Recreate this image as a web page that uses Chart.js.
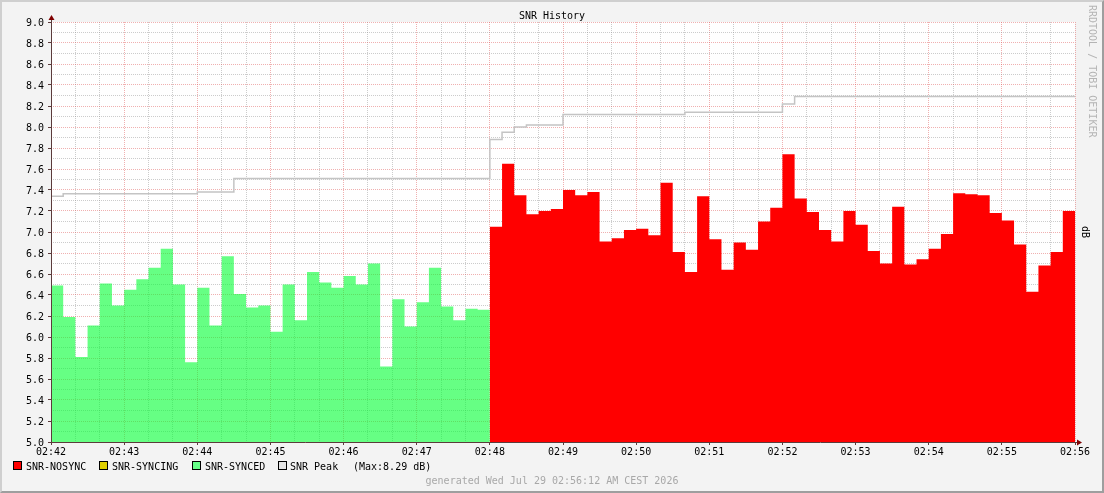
<!DOCTYPE html>
<html>
<head>
<meta charset="utf-8">
<title>SNR History</title>
<script src="https://cdn.jsdelivr.net/npm/chart.js@4.4.1/dist/chart.umd.min.js"></script>
<style>
  html, body { margin: 0; padding: 0; background: #f3f3f3; }
  #wrap { position: relative; width: 1104px; height: 493px; overflow: hidden;
          font-family: "DejaVu Sans Mono", monospace; font-size: 10px; color: #000; }
  #snrChart { position: absolute; left: 0; top: 0; }
  #frame { position: absolute; left: 0; top: 0; width: 1104px; height: 493px; box-sizing: border-box;
           border-top: 2px solid #cfcfcf; border-left: 2px solid #cfcfcf;
           border-right: 2px solid #9e9e9e; border-bottom: 2px solid #9e9e9e; pointer-events: none; }
  .txt { position: absolute; white-space: pre; line-height: 12px; }
  .box { position: absolute; width: 9px; height: 9px; box-sizing: border-box; border: 1px solid #000; }
  .vert { transform: rotate(90deg); transform-origin: center center; text-align: center; }
</style>
</head>
<body>
<div id="wrap">
  <canvas id="snrChart" width="1104" height="493"></canvas>
  <div class="txt" style="left:0; top:10px; width:1104px; text-align:center;">SNR History</div>
  <div class="txt vert" style="left:1026px; top:65px; width:132px; height:12px; color:#b4b4b4;">RRDTOOL / TOBI OETIKER</div>
  <div class="txt vert" style="left:1073px; top:226px; width:24px; height:12px;">dB</div>

  <div class="box" style="left:13px; top:461px; background:#ff0000;"></div>
  <div class="txt" style="left:26px; top:461px;">SNR-NOSYNC</div>
  <div class="box" style="left:99px; top:461px; background:#e0d000;"></div>
  <div class="txt" style="left:112px; top:461px;">SNR-SYNCING</div>
  <div class="box" style="left:192px; top:461px; background:#66ff88;"></div>
  <div class="txt" style="left:205px; top:461px;">SNR-SYNCED</div>
  <div class="box" style="left:278px; top:461px; background:#e4e4e4;"></div>
  <div class="txt" style="left:290px; top:461px;">SNR Peak</div>
  <div class="txt" style="left:353px; top:461px;">(Max:8.29 dB)</div>

  <div class="txt" style="left:0; top:475px; width:1104px; text-align:center; color:#a8a8a8;">generated Wed Jul 29 02:56:12 AM CEST 2026</div>
  <div id="frame"></div>
</div>
<script>
  // one sample every 10 s, starting 02:42
  var sampleSeconds = 10;
  var xTickLabels = ["02:42", "02:43", "02:44", "02:45", "02:46", "02:47", "02:48",
                     "02:49", "02:50", "02:51", "02:52", "02:53", "02:54", "02:55", "02:56"];

  var syncedValues = [6.49, 6.19, 5.81, 6.11, 6.51, 6.30, 6.45, 6.55, 6.66, 6.84,
                      6.50, 5.76, 6.47, 6.11, 6.77, 6.41, 6.28, 6.30, 6.05, 6.50,
                      6.16, 6.62, 6.52, 6.47, 6.58, 6.50, 6.70, 5.72, 6.36, 6.10,
                      6.33, 6.66, 6.29, 6.16, 6.27, 6.26];

  var nosyncValues = [7.05, 7.65, 7.35, 7.17, 7.20, 7.22, 7.40, 7.35, 7.38, 6.91,
                      6.94, 7.02, 7.03, 6.97, 7.47, 6.81, 6.62, 7.34, 6.93, 6.64,
                      6.90, 6.83, 7.10, 7.23, 7.74, 7.32, 7.19, 7.02, 6.91, 7.20,
                      7.07, 6.82, 6.70, 7.24, 6.69, 6.74, 6.84, 6.98, 7.37, 7.36,
                      7.35, 7.18, 7.11, 6.88, 6.43, 6.68, 6.81, 7.20];

  var peakValues = [7.34, 7.365, 7.365, 7.365, 7.365, 7.365, 7.365, 7.365, 7.365, 7.365,
                    7.365, 7.365, 7.38, 7.38, 7.38, 7.51, 7.51, 7.51, 7.51, 7.51,
                    7.51, 7.51, 7.51, 7.51, 7.51, 7.51, 7.51, 7.51, 7.51, 7.51,
                    7.51, 7.51, 7.51, 7.51, 7.51, 7.51, 7.88, 7.95, 8.00, 8.02,
                    8.02, 8.02, 8.12, 8.12, 8.12, 8.12, 8.12, 8.12, 8.12, 8.12,
                    8.12, 8.12, 8.14, 8.14, 8.14, 8.14, 8.14, 8.14, 8.14, 8.14,
                    8.22, 8.29, 8.29, 8.29, 8.29, 8.29, 8.29, 8.29, 8.29, 8.29,
                    8.29, 8.29, 8.29, 8.29, 8.29, 8.29, 8.29, 8.29, 8.29, 8.29,
                    8.29, 8.29, 8.29, 8.29];

  var yMin = 5.0, yMax = 9.0;

  // step points: each value holds for one sample, last value closes the span
  function stepPoints(values, firstIndex) {
    var pts = values.map(function (v, i) {
      return { x: (firstIndex + i) * sampleSeconds, y: v };
    });
    pts.push({ x: (firstIndex + values.length) * sampleSeconds, y: values[values.length - 1] });
    return pts;
  }

  var totalSeconds = (xTickLabels.length - 1) * 60;
  var gridMinor = "rgba(143,143,143,0.45)";
  var gridMajor = "rgba(222,80,80,0.45)";
  var axisColor = "#5b3b3b";

  var plotBackground = {
    id: "plotBackground",
    beforeDraw: function (chart) {
      var a = chart.chartArea, ctx = chart.ctx;
      ctx.save();
      ctx.fillStyle = "#ffffff";
      ctx.fillRect(a.left, a.top, a.right - a.left, a.bottom - a.top);
      ctx.restore();
    }
  };

  var axisArrows = {
    id: "axisArrows",
    afterDraw: function (chart) {
      var a = chart.chartArea, ctx = chart.ctx;
      var x0 = a.left + 0.5, y0 = a.bottom + 0.5;
      ctx.save();
      ctx.strokeStyle = axisColor;
      ctx.lineWidth = 1;
      ctx.beginPath();
      ctx.moveTo(x0, a.bottom + 3);
      ctx.lineTo(x0, a.top - 3);
      ctx.moveTo(a.left - 3, y0);
      ctx.lineTo(a.right + 3, y0);
      ctx.stroke();
      ctx.fillStyle = "#7f0000";
      ctx.beginPath();
      ctx.moveTo(x0, a.top - 7);
      ctx.lineTo(x0 - 3, a.top - 2);
      ctx.lineTo(x0 + 3, a.top - 2);
      ctx.closePath();
      ctx.fill();
      ctx.beginPath();
      ctx.moveTo(a.right + 7, y0);
      ctx.lineTo(a.right + 2, y0 - 3);
      ctx.lineTo(a.right + 2, y0 + 3);
      ctx.closePath();
      ctx.fill();
      ctx.restore();
    }
  };

  Chart.defaults.font.family = "'DejaVu Sans Mono', monospace";
  Chart.defaults.font.size = 10;
  Chart.defaults.color = "#000";

  new Chart(document.getElementById("snrChart"), {
    type: "line",
    data: {
      datasets: [
        {
          label: "SNR Peak",
          data: stepPoints(peakValues, 0),
          stepped: true,
          borderColor: "#c4c4c4",
          borderWidth: 1.5,
          pointRadius: 0,
          fill: false
        },
        {
          label: "SNR-SYNCED",
          data: stepPoints(syncedValues, 0),
          stepped: true,
          borderWidth: 0,
          borderColor: "rgba(0,0,0,0)",
          backgroundColor: "rgba(0,255,50,0.6)",
          pointRadius: 0,
          fill: "start"
        },
        {
          label: "SNR-NOSYNC",
          data: stepPoints(nosyncValues, syncedValues.length),
          stepped: true,
          borderWidth: 0,
          borderColor: "rgba(0,0,0,0)",
          backgroundColor: "#ff0000",
          pointRadius: 0,
          fill: "start"
        }
      ]
    },
    options: {
      responsive: false,
      animation: false,
      devicePixelRatio: 1,
      layout: { padding: { top: 22, right: 29, bottom: 0, left: 0 } },
      plugins: { legend: { display: false }, tooltip: { enabled: false } },
      scales: {
        x: {
          type: "linear",
          min: 0,
          max: totalSeconds,
          afterFit: function (scale) { scale.height = 51; },
          border: { display: false, dash: [1, 1] },
          grid: {
            borderDash: [1, 1],
            tickBorderDash: [],
            tickLength: 3,
            color: function (c) { return c.tick && c.tick.value % 60 === 0 ? gridMajor : gridMinor; },
            tickColor: function (c) { return c.tick && c.tick.value % 60 === 0 ? axisColor : "rgba(0,0,0,0)"; }
          },
          ticks: {
            stepSize: 20,
            autoSkip: false,
            maxRotation: 0,
            padding: 1,
            callback: function (v) { return v % 60 === 0 ? xTickLabels[v / 60] : ""; }
          }
        },
        y: {
          min: yMin,
          max: yMax,
          afterFit: function (scale) { scale.width = 51; },
          border: { display: false, dash: [1, 1] },
          grid: {
            borderDash: [1, 1],
            tickBorderDash: [],
            tickLength: 3,
            color: function (c) {
              return c.tick && Math.round(c.tick.value * 10) % 2 === 0 ? gridMajor : gridMinor;
            },
            tickColor: function (c) {
              return c.tick && Math.round(c.tick.value * 10) % 2 === 0 ? axisColor : "rgba(0,0,0,0)";
            }
          },
          ticks: {
            stepSize: 0.1,
            autoSkip: false,
            padding: 4,
            labelOffset: 1,
            callback: function (v) {
              var t = Math.round(v * 10);
              return t % 2 === 0 ? (t / 10).toFixed(1) : "";
            }
          }
        }
      }
    },
    plugins: [plotBackground, axisArrows]
  });
</script>
</body>
</html>
